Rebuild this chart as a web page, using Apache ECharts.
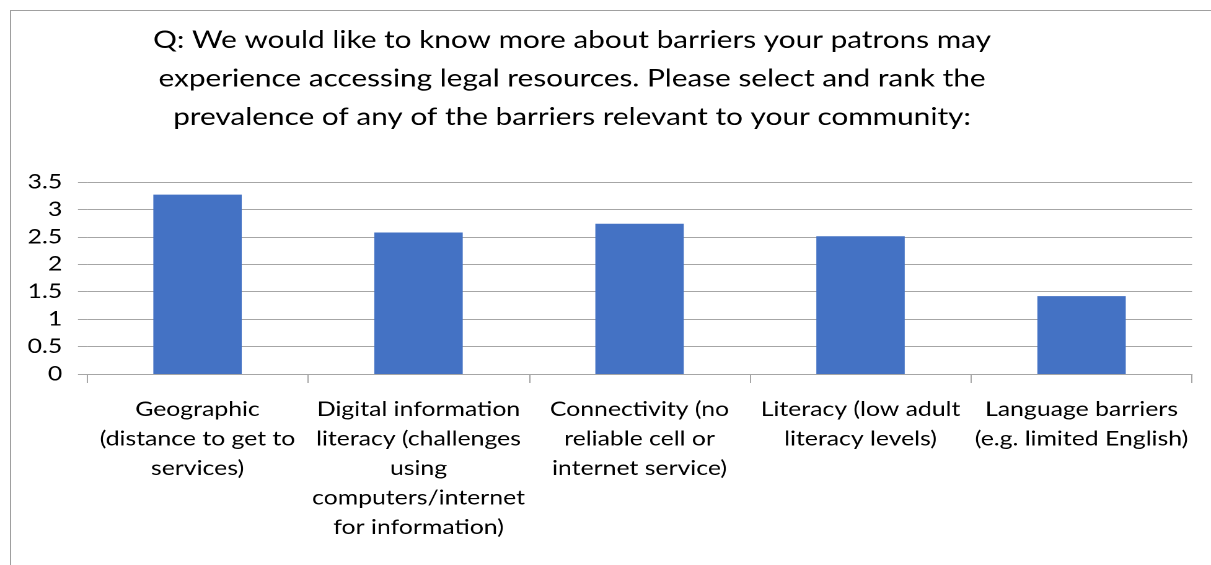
<!DOCTYPE html>
<html>
<head>
<meta charset="utf-8">
<script src="https://cdn.jsdelivr.net/npm/echarts@6/dist/echarts.min.js"></script>
<style>
  html, body { margin: 0; padding: 0; background: #fff; overflow: hidden; }
  /* The chart is laid out at 977px and widened to fill the 1211px page,
     giving the broad, stretched lettering of the original sheet. */
  #chart {
    width: 977px;
    height: 565px;
    transform: scaleX(1.2395);
    transform-origin: 0 0;
  }
</style>
</head>
<body>
<div id="chart"></div>
<script>
// Survey question shown above the chart
const titleLines = [
  'Q: We would like to know more about barriers your patrons may',
  'experience accessing legal resources. Please select and rank the',
  'prevalence of any of the barriers relevant to your community:'
];

// Barrier categories (line breaks as displayed under the axis)
const categories = [
  'Geographic\n(distance to get to\nservices)',
  'Digital information\nliteracy (challenges\nusing\ncomputers/internet\nfor information)',
  'Connectivity (no\nreliable cell or\ninternet service)',
  'Literacy (low adult\nliteracy levels)',
  'Language barriers\n(e.g. limited English)'
];

// Average prevalence rank for each barrier
const values = [3.27, 2.58, 2.74, 2.51, 1.42];

// Value axis ticks
const yTicks = [0, 0.5, 1, 1.5, 2, 2.5, 3, 3.5];

const FONT = 'Lato, "Open Sans", sans-serif';
const GRID = '#a6a6a6';

const chart = echarts.init(document.getElementById('chart'), null, {
  renderer: 'canvas',
  devicePixelRatio: 2
});

chart.setOption({
  backgroundColor: '#ffffff',
  animation: false,
  graphic: [
    {
      type: 'rect',
      shape: { x: 8.5, y: 10.5, width: 1200, height: 800 },
      style: { fill: 'none', stroke: '#a0a0a0', lineWidth: 1 },
      silent: true
    },
    {
      type: 'text',
      x: 461.5,
      y: 21,
      style: {
        text: titleLines.join('\n'),
        font: '24px ' + FONT,
        fill: '#000',
        align: 'center',
        verticalAlign: 'top',
        lineHeight: 38.5
      },
      silent: true
    }
  ],
  grid: { left: 70.2, right: 15.3, top: 182, bottom: 191 },
  xAxis: {
    type: 'category',
    data: categories,
    axisLine: { show: true, lineStyle: { color: GRID, width: 1 } },
    axisTick: { show: true, length: 9, lineStyle: { color: GRID } },
    axisLabel: {
      color: '#000',
      fontFamily: FONT,
      fontSize: 20,
      lineHeight: 29.5,
      margin: 21,
      interval: 0,
      align: 'center'
    }
  },
  yAxis: {
    type: 'value',
    min: yTicks[0],
    max: yTicks[yTicks.length - 1],
    interval: yTicks[1] - yTicks[0],
    axisLine: { show: false },
    axisTick: { show: true, length: 7.3, lineStyle: { color: GRID } },
    splitLine: { show: true, lineStyle: { color: GRID, width: 1 } },
    axisLabel: {
      color: '#000',
      fontFamily: FONT,
      fontSize: 20,
      margin: 20
    }
  },
  series: [
    {
      type: 'bar',
      data: values,
      barWidth: '40%',
      itemStyle: { color: '#4472c4' }
    }
  ]
});
</script>
</body>
</html>
